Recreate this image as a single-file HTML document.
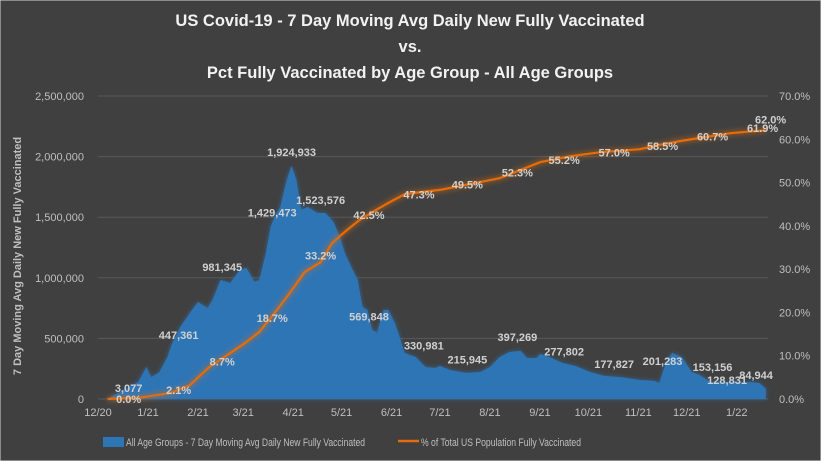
<!DOCTYPE html>
<html><head><meta charset="utf-8"><style>
html,body{margin:0;padding:0;background:#404040;}
svg{display:block;font-family:"Liberation Sans",sans-serif;}
</style></head><body>
<svg id="chart" width="821" height="461" viewBox="0 0 821 461">
<defs>
<filter id="glowB" x="-5%" y="-5%" width="110%" height="110%"><feGaussianBlur in="SourceAlpha" stdDeviation="2.5" result="b"/><feFlood flood-color="#2e75b6" flood-opacity="0.7"/><feComposite in2="b" operator="in" result="g"/><feMerge><feMergeNode in="g"/><feMergeNode in="SourceGraphic"/></feMerge></filter>
<filter id="glowO" x="-5%" y="-20%" width="110%" height="140%"><feGaussianBlur in="SourceGraphic" stdDeviation="3" result="b"/><feMerge><feMergeNode in="b"/><feMergeNode in="SourceGraphic"/></feMerge></filter>
</defs>
<rect x="0" y="0" width="821" height="461" fill="#404040" stroke="#d9d9d9" stroke-width="1"/>
<g font-weight="bold" font-size="16.5" fill="#f2f2f2" text-anchor="middle">
<text x="410" y="26">US Covid-19 - 7 Day Moving Avg Daily New Fully Vaccinated</text>
<text x="410" y="52">vs.</text>
<text x="410" y="78">Pct Fully Vaccinated by Age Group - All Age Groups</text>
</g>
<text transform="translate(21,256) rotate(-90)" text-anchor="middle" font-size="11" font-weight="bold" fill="#bfbfbf">7 Day Moving Avg Daily New Fully Vaccinated</text>
<g id="grid"></g><g id="area"></g><g id="line"></g><g id="labels"></g><g id="axes"></g>
<g>
<rect x="103" y="437" width="21" height="10" fill="#2e75b6"/>
<text x="126" y="446" font-size="11" fill="#bfbfbf" textLength="239" lengthAdjust="spacingAndGlyphs">All Age Groups - 7 Day Moving Avg Daily New Fully Vaccinated</text>
<line x1="398" y1="441" x2="419" y2="441" stroke="#e46c0a" stroke-width="2.5"/>
<text x="421" y="446" font-size="11" fill="#bfbfbf" textLength="160" lengthAdjust="spacingAndGlyphs">% of Total US Population Fully Vaccinated</text>
</g>
</svg>
<script>
// day offsets from 2020-12-01
const dailyDays=[6,25,30,33,38,43,46,51,57,62,68,71,76,82,88,92,97,100,104,107,110,113,117,120,123,126,130,136,141,146,150,153,157,161,164,167,170,173,177,180,184,187,190,197,203,209,212,218,228,237,243,249,255,262,266,272,274,280,288,296,305,314,324,336,345,348,352,356,362,368,373,380,389,404,410,414];
const dailyValues=[3077,140000,264000,180000,220000,346000,460000,594000,710000,800000,750000,817000,982000,957000,1064000,1081000,965000,982000,1200000,1419000,1518000,1584000,1807000,1925000,1807000,1560000,1584000,1535000,1535000,1460000,1337000,1204000,1090000,982000,760000,734000,570000,545000,734000,734000,627000,512000,380000,346000,264000,256000,272000,240000,215000,223000,264000,346000,388000,397000,338000,338000,371000,346000,297000,272000,223000,190000,181000,157000,149000,132000,297000,380000,346000,223000,198000,140000,140000,140000,132000,84944];
const pctDays=[6,26,45,57,69,82,91,100,110,119,128,138,145,153,162,172,181,190,200,212,237,249,262,274,293,311,336,348,361,373,392,414];
const pctValues=[0,0.3,1.4,3.2,7.4,10.6,12.9,15.5,20.1,24.5,29.3,31.6,36,38.6,41.3,43.6,45.5,47.3,47.8,48.3,50.1,51,52.9,54.7,56.1,57,57.7,58.7,59.6,60.3,61.4,62.1];
const leftTicks=[0,500000,1000000,1500000,2000000,2500000];
const leftTickLabels=["0","500,000","1,000,000","1,500,000","2,000,000","2,500,000"];
const rightTicks=[0,10,20,30,40,50,60,70];
const xTickDays=[0,31,62,90,121,151,182,212,243,274,304,335,365,396];
const xTickLabels=["12/20","1/21","2/21","3/21","4/21","5/21","6/21","7/21","8/21","9/21","10/21","11/21","12/21","1/22"];
const barLabelDays=[19,50,77,108,120,138,168,202,229,260,289,320,350,381,390,408];
const barLabelTexts=["3,077","447,361","981,345","1,429,473","1,924,933","1,523,576","569,848","330,981","215,945","397,269","277,802","177,827","201,283","153,156","128,831","84,944"];
const barLabelValues=[90000,530000,1090000,1540000,2040000,1640000,680000,440000,325000,510000,390000,290000,315000,265000,155000,200000];
const pctLabelDays=[19,50,77,108,138,168,199,229,260,289,320,350,381,412,417];
const pctLabelValues=[0,2.1,8.7,18.7,33.2,42.5,47.3,49.5,52.3,55.2,57.0,58.5,60.7,61.9,62.0];

const X0=98,XD=1.613,Y0=399,YTOP=96;
const xs=d=>X0+d*XD;
const yL=v=>Y0-(v/2500000)*(Y0-YTOP);
const yR=p=>Y0-(p/70)*(Y0-YTOP);
const NS="http://www.w3.org/2000/svg";
function mk(tag,attrs,parent,txt){const e=document.createElementNS(NS,tag);for(const k in attrs)e.setAttribute(k,attrs[k]);if(txt!==undefined)e.textContent=txt;parent.appendChild(e);return e;}
const grid=document.getElementById('grid'),axes=document.getElementById('axes');
leftTicks.forEach((t,i)=>{
 if(t>0){const g=mk('line',{x1:X0,x2:768,y1:yL(t),y2:yL(t),stroke:'#595959','stroke-width':1},grid);
 
 }
 const l=mk('text',{x:84,y:yL(t)+4,'text-anchor':'end','font-size':11,fill:'#bfbfbf'},axes,leftTickLabels[i]);
 
 
});
rightTicks.forEach(t=>{
 const l=mk('text',{x:779,y:yR(t)+4,'font-size':11,fill:'#bfbfbf'},axes,t.toFixed(1)+'%');
 
 
});
xTickDays.forEach((d,i)=>{
 const l=mk('text',{x:xs(d),y:416,'text-anchor':'middle','font-size':11,fill:'#bfbfbf'},axes,xTickLabels[i]);
 
 
});
let p='M'+xs(dailyDays[0])+','+Y0;
dailyDays.forEach((d,i)=>{p+=' L'+xs(d).toFixed(1)+','+yL(dailyValues[i]).toFixed(1);});
p+=' L'+xs(dailyDays[dailyDays.length-1])+','+Y0+' Z';
const area=mk('path',{d:p,fill:'#2e75b6',filter:'url(#glowB)'},document.getElementById('area'));


const base=mk('line',{x1:X0,x2:768,y1:Y0,y2:Y0,stroke:'#595959'},grid);


let lp='M'+xs(pctDays[0])+','+yR(pctValues[0]);
pctDays.forEach((d,i)=>{lp+=' L'+xs(d).toFixed(1)+','+yR(pctValues[i]).toFixed(1);});
const ln=mk('path',{d:lp,fill:'none',stroke:'#e46c0a','stroke-width':2.2,filter:'url(#glowO)'},document.getElementById('line'));


const lab=document.getElementById('labels');
barLabelDays.forEach((d,i)=>{
 const t=mk('text',{x:xs(d),y:yL(barLabelValues[i])+4,'text-anchor':'middle','font-size':11,'font-weight':'bold',fill:'#d0d0d0'},lab,barLabelTexts[i]);
 
 
});
pctLabelDays.forEach((d,i)=>{
 const off=i===14?-7:(i===13?1:4);
 const t=mk('text',{x:xs(d),y:yR(pctLabelValues[i])+off,'text-anchor':'middle','font-size':11,'font-weight':'bold',fill:'#d0d0d0'},lab,pctLabelValues[i].toFixed(1)+'%');
 
 
});
</script>
</body></html>
